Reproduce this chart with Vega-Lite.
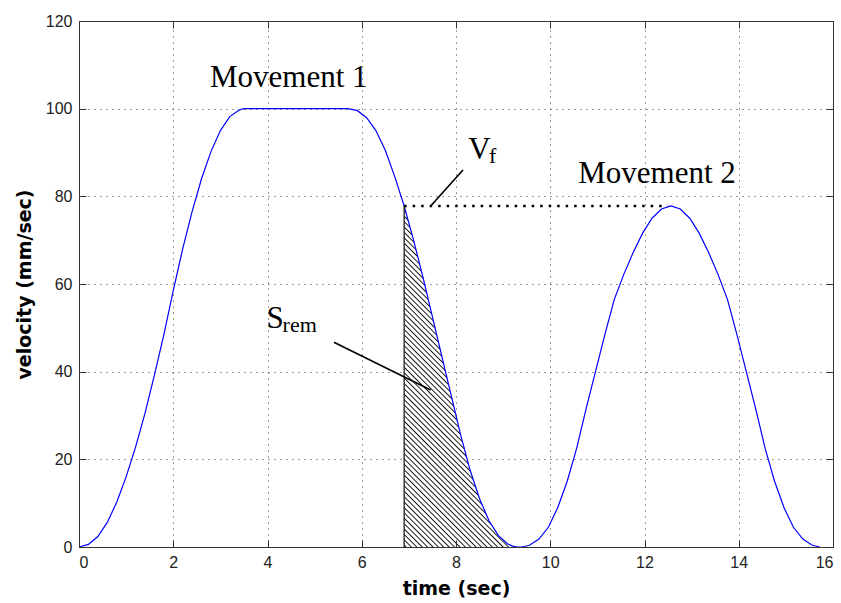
{
  "$schema": "https://vega.github.io/schema/vega-lite/v6.json",
  "width": 754,
  "height": 526,
  "autosize": {"type": "none"},
  "padding": {"left": 79, "top": 21, "right": 8, "bottom": 56},
  "background": "white",
  "config": {
    "view": {"stroke": null},
    "font": "Liberation Sans",
    "axis": {
      "domainColor": "#333",
      "domainWidth": 1,
      "tickColor": "#333",
      "tickWidth": 1,
      "tickSize": -7,
      "labelFont": "Liberation Sans",
      "labelFontSize": 16,
      "labelColor": "#222",
      "labelPadding": 14,
      "titleFont": "DejaVu Sans",
      "titleFontSize": 19,
      "titleFontWeight": "bold",
      "titleColor": "#000",
      "gridColor": "#333",
      "gridDash": [1, 5],
      "gridWidth": 1,
      "gridOpacity": 1
    }
  },
  "datasets": {
    "curve": [
      {"t": 0, "v": 0}, {"t": 0.2, "v": 0.6}, {"t": 0.4, "v": 2.4}, {"t": 0.6, "v": 5.6},
      {"t": 0.8, "v": 10.2}, {"t": 1.0, "v": 16.0}, {"t": 1.2, "v": 22.8}, {"t": 1.4, "v": 30.5},
      {"t": 1.6, "v": 39.2}, {"t": 1.8, "v": 48.4}, {"t": 2.0, "v": 58.5}, {"t": 2.2, "v": 68.0},
      {"t": 2.4, "v": 76.5}, {"t": 2.6, "v": 84.0}, {"t": 2.8, "v": 90.2}, {"t": 3.0, "v": 95.0},
      {"t": 3.2, "v": 98.2}, {"t": 3.4, "v": 99.7}, {"t": 3.5, "v": 100}, {"t": 5.7, "v": 100},
      {"t": 5.9, "v": 99.6}, {"t": 6.1, "v": 98.0}, {"t": 6.3, "v": 95.0}, {"t": 6.5, "v": 90.5},
      {"t": 6.7, "v": 84.5}, {"t": 6.9, "v": 77.8}, {"t": 7.1, "v": 70.0}, {"t": 7.3, "v": 61.5},
      {"t": 7.5, "v": 52.5}, {"t": 7.7, "v": 43.5}, {"t": 7.9, "v": 34.5}, {"t": 8.1, "v": 25.5},
      {"t": 8.3, "v": 17.5}, {"t": 8.5, "v": 11.0}, {"t": 8.7, "v": 6.0}, {"t": 8.9, "v": 2.6},
      {"t": 9.1, "v": 0.7}, {"t": 9.2, "v": 0.2}, {"t": 9.3, "v": 0}, {"t": 9.4, "v": 0},
      {"t": 9.56, "v": 0.4}, {"t": 9.76, "v": 1.8}, {"t": 9.96, "v": 4.5}, {"t": 10.16, "v": 9.0},
      {"t": 10.36, "v": 15.0}, {"t": 10.56, "v": 22.5}, {"t": 10.76, "v": 31.5}, {"t": 10.96, "v": 40.0},
      {"t": 11.16, "v": 48.5}, {"t": 11.36, "v": 56.5}, {"t": 11.56, "v": 62.2}, {"t": 11.76, "v": 67.2},
      {"t": 11.96, "v": 71.6}, {"t": 12.16, "v": 75.0}, {"t": 12.36, "v": 77.1}, {"t": 12.56, "v": 77.8},
      {"t": 12.76, "v": 77.1}, {"t": 12.96, "v": 75.0}, {"t": 13.16, "v": 71.6}, {"t": 13.36, "v": 67.2},
      {"t": 13.56, "v": 62.2}, {"t": 13.76, "v": 56.5}, {"t": 13.96, "v": 48.5}, {"t": 14.16, "v": 40.0},
      {"t": 14.36, "v": 31.5}, {"t": 14.56, "v": 22.5}, {"t": 14.76, "v": 15.0}, {"t": 14.96, "v": 9.0},
      {"t": 15.16, "v": 4.5}, {"t": 15.36, "v": 1.8}, {"t": 15.56, "v": 0.4}, {"t": 15.72, "v": 0}
    ],
    "edge": [{"t": 6.9, "v": 77.8}],
    "vf": [{"t": 6.9, "t2": 12.5, "v": 77.8}],
    "leaders": [
      {"x": 8.148, "y": 86.0, "x2": 7.463, "y2": 77.8},
      {"x": 5.41, "y": 46.7, "x2": 7.463, "y2": 35.8}
    ],
    "labels": [
      {"x": 2.78, "y": 104.9, "text": "Movement 1"},
      {"x": 10.595, "y": 83.1, "text": "Movement 2"},
      {"x": 8.26, "y": 88.45, "text": "V"},
      {"x": 3.98, "y": 49.9, "text": "S"}
    ],
    "subs": [
      {"x": 8.70, "y": 87.67, "text": "f"},
      {"x": 4.32, "y": 49.12, "text": "rem"}
    ]
  },
  "layer": [
    {
      "data": {"name": "curve"},
      "transform": [{"filter": "datum.t >= 6.9 && datum.t <= 9.2"}],
      "mark": {
        "type": "area",
        "stroke": null,
        "fill": {
          "gradient": "linear",
          "x1": 1, "y1": 0, "x2": 0.5434, "y2": 1.4363,
          "stops": [
            {"offset":0.00,"color":"#111"},{"offset":0.0025,"color":"#fff"},{"offset":0.0075,"color":"#fff"},
            {"offset":0.01,"color":"#111"},{"offset":0.0125,"color":"#fff"},{"offset":0.0175,"color":"#fff"},
            {"offset":0.02,"color":"#111"},{"offset":0.0225,"color":"#fff"},{"offset":0.0275,"color":"#fff"},
            {"offset":0.03,"color":"#111"},{"offset":0.0325,"color":"#fff"},{"offset":0.0375,"color":"#fff"},
            {"offset":0.04,"color":"#111"},{"offset":0.0425,"color":"#fff"},{"offset":0.0475,"color":"#fff"},
            {"offset":0.05,"color":"#111"},{"offset":0.0525,"color":"#fff"},{"offset":0.0575,"color":"#fff"},
            {"offset":0.06,"color":"#111"},{"offset":0.0625,"color":"#fff"},{"offset":0.0675,"color":"#fff"},
            {"offset":0.07,"color":"#111"},{"offset":0.0725,"color":"#fff"},{"offset":0.0775,"color":"#fff"},
            {"offset":0.08,"color":"#111"},{"offset":0.0825,"color":"#fff"},{"offset":0.0875,"color":"#fff"},
            {"offset":0.09,"color":"#111"},{"offset":0.0925,"color":"#fff"},{"offset":0.0975,"color":"#fff"},
            {"offset":0.10,"color":"#111"},{"offset":0.1025,"color":"#fff"},{"offset":0.1075,"color":"#fff"},
            {"offset":0.11,"color":"#111"},{"offset":0.1125,"color":"#fff"},{"offset":0.1175,"color":"#fff"},
            {"offset":0.12,"color":"#111"},{"offset":0.1225,"color":"#fff"},{"offset":0.1275,"color":"#fff"},
            {"offset":0.13,"color":"#111"},{"offset":0.1325,"color":"#fff"},{"offset":0.1375,"color":"#fff"},
            {"offset":0.14,"color":"#111"},{"offset":0.1425,"color":"#fff"},{"offset":0.1475,"color":"#fff"},
            {"offset":0.15,"color":"#111"},{"offset":0.1525,"color":"#fff"},{"offset":0.1575,"color":"#fff"},
            {"offset":0.16,"color":"#111"},{"offset":0.1625,"color":"#fff"},{"offset":0.1675,"color":"#fff"},
            {"offset":0.17,"color":"#111"},{"offset":0.1725,"color":"#fff"},{"offset":0.1775,"color":"#fff"},
            {"offset":0.18,"color":"#111"},{"offset":0.1825,"color":"#fff"},{"offset":0.1875,"color":"#fff"},
            {"offset":0.19,"color":"#111"},{"offset":0.1925,"color":"#fff"},{"offset":0.1975,"color":"#fff"},
            {"offset":0.20,"color":"#111"},{"offset":0.2025,"color":"#fff"},{"offset":0.2075,"color":"#fff"},
            {"offset":0.21,"color":"#111"},{"offset":0.2125,"color":"#fff"},{"offset":0.2175,"color":"#fff"},
            {"offset":0.22,"color":"#111"},{"offset":0.2225,"color":"#fff"},{"offset":0.2275,"color":"#fff"},
            {"offset":0.23,"color":"#111"},{"offset":0.2325,"color":"#fff"},{"offset":0.2375,"color":"#fff"},
            {"offset":0.24,"color":"#111"},{"offset":0.2425,"color":"#fff"},{"offset":0.2475,"color":"#fff"},
            {"offset":0.25,"color":"#111"},{"offset":0.2525,"color":"#fff"},{"offset":0.2575,"color":"#fff"},
            {"offset":0.26,"color":"#111"},{"offset":0.2625,"color":"#fff"},{"offset":0.2675,"color":"#fff"},
            {"offset":0.27,"color":"#111"},{"offset":0.2725,"color":"#fff"},{"offset":0.2775,"color":"#fff"},
            {"offset":0.28,"color":"#111"},{"offset":0.2825,"color":"#fff"},{"offset":0.2875,"color":"#fff"},
            {"offset":0.29,"color":"#111"},{"offset":0.2925,"color":"#fff"},{"offset":0.2975,"color":"#fff"},
            {"offset":0.30,"color":"#111"},{"offset":0.3025,"color":"#fff"},{"offset":0.3075,"color":"#fff"},
            {"offset":0.31,"color":"#111"},{"offset":0.3125,"color":"#fff"},{"offset":0.3175,"color":"#fff"},
            {"offset":0.32,"color":"#111"},{"offset":0.3225,"color":"#fff"},{"offset":0.3275,"color":"#fff"},
            {"offset":0.33,"color":"#111"},{"offset":0.3325,"color":"#fff"},{"offset":0.3375,"color":"#fff"},
            {"offset":0.34,"color":"#111"},{"offset":0.3425,"color":"#fff"},{"offset":0.3475,"color":"#fff"},
            {"offset":0.35,"color":"#111"},{"offset":0.3525,"color":"#fff"},{"offset":0.3575,"color":"#fff"},
            {"offset":0.36,"color":"#111"},{"offset":0.3625,"color":"#fff"},{"offset":0.3675,"color":"#fff"},
            {"offset":0.37,"color":"#111"},{"offset":0.3725,"color":"#fff"},{"offset":0.3775,"color":"#fff"},
            {"offset":0.38,"color":"#111"},{"offset":0.3825,"color":"#fff"},{"offset":0.3875,"color":"#fff"},
            {"offset":0.39,"color":"#111"},{"offset":0.3925,"color":"#fff"},{"offset":0.3975,"color":"#fff"},
            {"offset":0.40,"color":"#111"},{"offset":0.4025,"color":"#fff"},{"offset":0.4075,"color":"#fff"},
            {"offset":0.41,"color":"#111"},{"offset":0.4125,"color":"#fff"},{"offset":0.4175,"color":"#fff"},
            {"offset":0.42,"color":"#111"},{"offset":0.4225,"color":"#fff"},{"offset":0.4275,"color":"#fff"},
            {"offset":0.43,"color":"#111"},{"offset":0.4325,"color":"#fff"},{"offset":0.4375,"color":"#fff"},
            {"offset":0.44,"color":"#111"},{"offset":0.4425,"color":"#fff"},{"offset":0.4475,"color":"#fff"},
            {"offset":0.45,"color":"#111"},{"offset":0.4525,"color":"#fff"},{"offset":0.4575,"color":"#fff"},
            {"offset":0.46,"color":"#111"},{"offset":0.4625,"color":"#fff"},{"offset":0.4675,"color":"#fff"},
            {"offset":0.47,"color":"#111"},{"offset":0.4725,"color":"#fff"},{"offset":0.4775,"color":"#fff"},
            {"offset":0.48,"color":"#111"},{"offset":0.4825,"color":"#fff"},{"offset":0.4875,"color":"#fff"},
            {"offset":0.49,"color":"#111"},{"offset":0.4925,"color":"#fff"},{"offset":0.4975,"color":"#fff"},
            {"offset":0.50,"color":"#111"},{"offset":0.5025,"color":"#fff"},{"offset":0.5075,"color":"#fff"},
            {"offset":0.51,"color":"#111"},{"offset":0.5125,"color":"#fff"},{"offset":0.5175,"color":"#fff"},
            {"offset":0.52,"color":"#111"},{"offset":0.5225,"color":"#fff"},{"offset":0.5275,"color":"#fff"},
            {"offset":0.53,"color":"#111"},{"offset":0.5325,"color":"#fff"},{"offset":0.5375,"color":"#fff"},
            {"offset":0.54,"color":"#111"},{"offset":0.5425,"color":"#fff"},{"offset":0.5475,"color":"#fff"},
            {"offset":0.55,"color":"#111"},{"offset":0.5525,"color":"#fff"},{"offset":0.5575,"color":"#fff"},
            {"offset":0.56,"color":"#111"},{"offset":0.5625,"color":"#fff"},{"offset":0.5675,"color":"#fff"},
            {"offset":0.57,"color":"#111"},{"offset":0.5725,"color":"#fff"},{"offset":0.5775,"color":"#fff"},
            {"offset":0.58,"color":"#111"},{"offset":0.5825,"color":"#fff"},{"offset":0.5875,"color":"#fff"},
            {"offset":0.59,"color":"#111"},{"offset":0.5925,"color":"#fff"},{"offset":0.5975,"color":"#fff"},
            {"offset":0.60,"color":"#111"},{"offset":0.6025,"color":"#fff"},{"offset":0.6075,"color":"#fff"},
            {"offset":0.61,"color":"#111"},{"offset":0.6125,"color":"#fff"},{"offset":0.6175,"color":"#fff"},
            {"offset":0.62,"color":"#111"},{"offset":0.6225,"color":"#fff"},{"offset":0.6275,"color":"#fff"},
            {"offset":0.63,"color":"#111"},{"offset":0.6325,"color":"#fff"},{"offset":0.6375,"color":"#fff"},
            {"offset":0.64,"color":"#111"},{"offset":0.6425,"color":"#fff"},{"offset":0.6475,"color":"#fff"},
            {"offset":0.65,"color":"#111"},{"offset":0.6525,"color":"#fff"},{"offset":0.6575,"color":"#fff"},
            {"offset":0.66,"color":"#111"},{"offset":0.6625,"color":"#fff"},{"offset":0.6675,"color":"#fff"},
            {"offset":0.67,"color":"#111"},{"offset":0.6725,"color":"#fff"},{"offset":0.6775,"color":"#fff"},
            {"offset":0.68,"color":"#111"},{"offset":0.6825,"color":"#fff"},{"offset":0.6875,"color":"#fff"},
            {"offset":0.69,"color":"#111"},{"offset":0.6925,"color":"#fff"},{"offset":0.6975,"color":"#fff"},
            {"offset":0.70,"color":"#111"},{"offset":0.7025,"color":"#fff"},{"offset":0.7075,"color":"#fff"},
            {"offset":0.71,"color":"#111"},{"offset":0.7125,"color":"#fff"},{"offset":0.7175,"color":"#fff"},
            {"offset":0.72,"color":"#111"},{"offset":0.7225,"color":"#fff"},{"offset":0.7275,"color":"#fff"},
            {"offset":0.73,"color":"#111"},{"offset":0.7325,"color":"#fff"},{"offset":0.7375,"color":"#fff"},
            {"offset":0.74,"color":"#111"},{"offset":0.7425,"color":"#fff"},{"offset":0.7475,"color":"#fff"},
            {"offset":0.75,"color":"#111"},{"offset":0.7525,"color":"#fff"},{"offset":0.7575,"color":"#fff"},
            {"offset":0.76,"color":"#111"},{"offset":0.7625,"color":"#fff"},{"offset":0.7675,"color":"#fff"},
            {"offset":0.77,"color":"#111"},{"offset":0.7725,"color":"#fff"},{"offset":0.7775,"color":"#fff"},
            {"offset":0.78,"color":"#111"},{"offset":0.7825,"color":"#fff"},{"offset":0.7875,"color":"#fff"},
            {"offset":0.79,"color":"#111"},{"offset":0.7925,"color":"#fff"},{"offset":0.7975,"color":"#fff"},
            {"offset":0.80,"color":"#111"},{"offset":0.8025,"color":"#fff"},{"offset":0.8075,"color":"#fff"},
            {"offset":0.81,"color":"#111"},{"offset":0.8125,"color":"#fff"},{"offset":0.8175,"color":"#fff"},
            {"offset":0.82,"color":"#111"},{"offset":0.8225,"color":"#fff"},{"offset":0.8275,"color":"#fff"},
            {"offset":0.83,"color":"#111"},{"offset":0.8325,"color":"#fff"},{"offset":0.8375,"color":"#fff"},
            {"offset":0.84,"color":"#111"},{"offset":0.8425,"color":"#fff"},{"offset":0.8475,"color":"#fff"},
            {"offset":0.85,"color":"#111"},{"offset":0.8525,"color":"#fff"},{"offset":0.8575,"color":"#fff"},
            {"offset":0.86,"color":"#111"},{"offset":0.8625,"color":"#fff"},{"offset":0.8675,"color":"#fff"},
            {"offset":0.87,"color":"#111"},{"offset":0.8725,"color":"#fff"},{"offset":0.8775,"color":"#fff"},
            {"offset":0.88,"color":"#111"},{"offset":0.8825,"color":"#fff"},{"offset":0.8875,"color":"#fff"},
            {"offset":0.89,"color":"#111"},{"offset":0.8925,"color":"#fff"},{"offset":0.8975,"color":"#fff"},
            {"offset":0.90,"color":"#111"},{"offset":0.9025,"color":"#fff"},{"offset":0.9075,"color":"#fff"},
            {"offset":0.91,"color":"#111"},{"offset":0.9125,"color":"#fff"},{"offset":0.9175,"color":"#fff"},
            {"offset":0.92,"color":"#111"},{"offset":0.9225,"color":"#fff"},{"offset":0.9275,"color":"#fff"},
            {"offset":0.93,"color":"#111"},{"offset":0.9325,"color":"#fff"},{"offset":0.9375,"color":"#fff"},
            {"offset":0.94,"color":"#111"},{"offset":0.9425,"color":"#fff"},{"offset":0.9475,"color":"#fff"},
            {"offset":0.95,"color":"#111"},{"offset":0.9525,"color":"#fff"},{"offset":0.9575,"color":"#fff"},
            {"offset":0.96,"color":"#111"},{"offset":0.9625,"color":"#fff"},{"offset":0.9675,"color":"#fff"},
            {"offset":0.97,"color":"#111"},{"offset":0.9725,"color":"#fff"},{"offset":0.9775,"color":"#fff"},
            {"offset":0.98,"color":"#111"},{"offset":0.9825,"color":"#fff"},{"offset":0.9875,"color":"#fff"},
            {"offset":0.99,"color":"#111"},{"offset":0.9925,"color":"#fff"},{"offset":0.9975,"color":"#fff"},
            {"offset":1,"color":"#111"}
          ]
        }
      },
      "encoding": {
        "x": {
          "field": "t", "type": "quantitative",
          "scale": {"domain": [0, 16], "nice": false},
          "axis": {"orient": "bottom", "values": [0, 2, 4, 6, 8, 10, 12, 14, 16], "grid": false,
                   "title": "time (sec)", "titlePadding": 9, "zindex": 1}
        },
        "y": {
          "field": "v", "type": "quantitative",
          "scale": {"domain": [0, 120], "nice": false},
          "axis": {"orient": "left", "values": [0, 20, 40, 60, 80, 100, 120], "grid": false,
                   "title": "velocity (mm/sec)", "titlePadding": 11, "zindex": 1}
        }
      }
    },
    {
      "data": {"name": "curve"},
      "mark": {"type": "line", "color": "#0000ff", "strokeWidth": 1.2},
      "encoding": {
        "x": {
          "field": "t", "type": "quantitative",
          "scale": {"domain": [0, 16], "nice": false},
          "axis": {"orient": "top", "values": [0, 2, 4, 6, 8, 10, 12, 14, 16], "labels": false,
                   "title": null, "grid": true, "zindex": 0}
        },
        "y": {
          "field": "v", "type": "quantitative",
          "scale": {"domain": [0, 120], "nice": false},
          "axis": {"orient": "right", "values": [0, 20, 40, 60, 80, 100, 120], "labels": false,
                   "title": null, "grid": true, "zindex": 0}
        }
      }
    },
    {
      "data": {"name": "edge"},
      "mark": {"type": "rule", "color": "#222", "strokeWidth": 1.3},
      "encoding": {
        "x": {"field": "t", "type": "quantitative", "axis": null},
        "y": {"field": "v", "type": "quantitative", "axis": null},
        "y2": {"datum": 0}
      }
    },
    {
      "data": {"name": "vf"},
      "mark": {"type": "rule", "color": "#000", "strokeWidth": 2.6, "strokeDash": [2.5, 6]},
      "encoding": {
        "x": {"field": "t", "type": "quantitative", "axis": null},
        "x2": {"field": "t2"},
        "y": {"field": "v", "type": "quantitative", "axis": null}
      }
    },
    {
      "data": {"name": "leaders"},
      "mark": {"type": "rule", "color": "#000", "strokeWidth": 1.7},
      "encoding": {
        "x": {"field": "x", "type": "quantitative", "axis": null},
        "y": {"field": "y", "type": "quantitative", "axis": null},
        "x2": {"field": "x2"},
        "y2": {"field": "y2"}
      }
    },
    {
      "data": {"name": "labels"},
      "mark": {"type": "text", "font": "Liberation Serif", "fontSize": 31, "align": "left",
               "baseline": "alphabetic", "color": "#000"},
      "encoding": {
        "x": {"field": "x", "type": "quantitative", "axis": null},
        "y": {"field": "y", "type": "quantitative", "axis": null},
        "text": {"field": "text"}
      }
    },
    {
      "data": {"name": "subs"},
      "mark": {"type": "text", "font": "Liberation Serif", "fontSize": 22, "align": "left",
               "baseline": "alphabetic", "color": "#000"},
      "encoding": {
        "x": {"field": "x", "type": "quantitative", "axis": null},
        "y": {"field": "y", "type": "quantitative", "axis": null},
        "text": {"field": "text"}
      }
    }
  ],
  "resolve": {"axis": {"x": "independent", "y": "independent"}}
}
